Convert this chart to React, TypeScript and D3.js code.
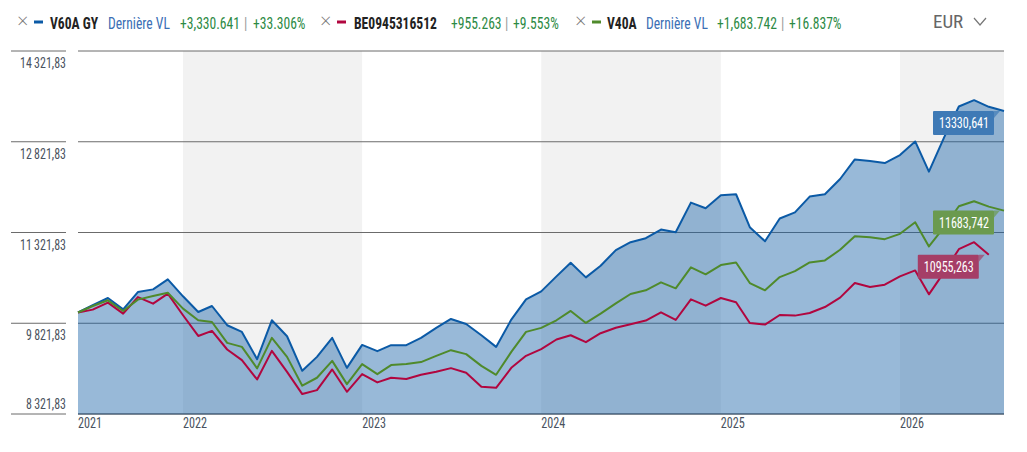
import * as d3 from "d3";

const startMonth = new Date(2021, 5, 1);
const endMonth = new Date(2026, 7, 1);
const months = d3.timeMonth.range(startMonth, d3.timeDay.offset(endMonth, 1));

const v60a = [
  10000, 10119, 10239, 10052, 10337, 10382, 10547, 10267, 10008, 10107, 9789, 9678,
  9228, 9871, 9607, 9036, 9266, 9580, 9085, 9464, 9360, 9459, 9459, 9580,
  9745, 9893, 9810, 9624, 9431, 9882, 10217, 10349, 10597, 10822, 10580, 10773,
  11030, 11162, 11228, 11371, 11327, 11816, 11723, 11937, 11954, 11410, 11178, 11553,
  11655, 11915, 11954, 12206, 12530, 12503, 12470, 12602, 12827, 12327, 12893, 13404,
  13509, 13399, 13330.641,
];
const be0945 = [
  10000, 10047, 10163, 9981, 10255, 10146, 10311, 9954, 9612, 9695, 9388, 9212,
  8893, 9365, 9019, 8651, 8717, 9058, 8689, 8981, 8844, 8921, 8900, 8970,
  9019, 9080, 9003, 8772, 8755, 9085, 9283, 9393, 9553, 9624, 9509, 9657,
  9748, 9805, 9866, 10003, 9876, 10217, 10113, 10239, 10168, 9827, 9800, 9958,
  9948, 9992, 10090, 10245, 10486, 10420, 10459, 10596, 10695, 10300, 10667, 11046,
  11162, 10955.263,
];
const v40a = [
  10000, 10107, 10201, 10025, 10212, 10272, 10327, 10064, 9871, 9843, 9497, 9431,
  9075, 9580, 9266, 8789, 8921, 9200, 8816, 9146, 8981, 9130, 9150, 9180,
  9283, 9377, 9311, 9118, 8970, 9349, 9679, 9745, 9871, 10025, 9827, 9981,
  10150, 10305, 10366, 10498, 10399, 10745, 10630, 10783, 10827, 10486, 10366, 10585,
  10684, 10827, 10860, 11036, 11261, 11245, 11212, 11300, 11492, 11091, 11410, 11756,
  11838, 11750, 11683.742,
];

const yTicks = [8321.83, 9821.83, 11321.83, 12821.83, 14321.83];
const years = [2021, 2022, 2023, 2024, 2025, 2026];
const shadedYears = [2022, 2024, 2026];
const base = 10000;

const series = [
  { name: "V60A GY", sub: "Dernière VL", values: v60a, color: "#0b5aa6", tag: "#3f7ab6", x: 17, at: [50, 108, 180, 244, 253] },
  { name: "BE0945316512", sub: "", values: be0945, color: "#b1063f", tag: "#a53e67", x: 320, at: [354, 0, 451, 505, 513] },
  { name: "V40A", sub: "Dernière VL", values: v40a, color: "#4f8a2b", tag: "#6b9a4f", x: 575, at: [607, 646, 717, 781, 789] },
];

const font = "'Roboto Condensed', Roboto, sans-serif";
const fr = d3.formatLocale({ decimal: ",", thousands: "\u2009", grouping: [3], currency: ["", "€"] });
const tickFmt = fr.format(",.2f");
const tagFmt = fr.format(".3f");
const diffFmt = d3.format("+,.3f");
const pctFmt = d3.format("+.3f");

const width = 1027;
const height = 452;
const margin = { top: 51, right: 23, bottom: 38, left: 78 };
const squeeze = 0.85;

const Narrow = ({ x, y, fill, bold, children }: { x: number; y: number; fill: string; bold?: boolean; children: any }) => (
  <text transform={`translate(${x},${y}) scale(${squeeze},1)`} fill={fill} fontWeight={bold ? "bold" : undefined}>
    {children}
  </text>
);

export default function App() {
  const x = d3.scaleTime()
    .domain([startMonth, endMonth])
    .range([margin.left, width - margin.right]);
  const y = d3.scaleLinear()
    .domain([yTicks[0], yTicks[yTicks.length - 1]])
    .range([height - margin.bottom, margin.top]);

  const line = d3.line<number>()
    .x((_, i) => x(months[i]))
    .y((d) => y(d));
  const area = d3.area<number>()
    .x((_, i) => x(months[i]))
    .y0(y(yTicks[0]))
    .y1((d) => y(d));

  const right = width - margin.right;
  const green = "#2d8a45";

  return (
    <svg width={width} height={height} style={{ position: "absolute", left: 0, top: 0, fontFamily: font }}>
      {shadedYears.map((yr) => {
        const x0 = x(new Date(yr, 0, 1));
        const x1 = Math.min(x(new Date(yr + 1, 0, 1)), right);
        return <rect key={yr} x={x0} y={margin.top} width={x1 - x0} height={y(yTicks[0]) - margin.top} fill="#f2f2f2" />;
      })}

      {yTicks.map((t, i) => {
        const label = tickFmt(t);
        return (
          <g key={t}>
            <line x1={11} x2={66} y1={y(t)} y2={y(t)} stroke="#6b6b6b" />
            <line x1={margin.left} x2={right} y1={y(t)} y2={y(t)} stroke="#6b6b6b" />
            <text x={66} y={i === 0 ? y(t) - 5 : y(t) + 17} textAnchor="end" fontSize={14.5} fill="#4a5260"
              textLength={label.length > 8 ? 46 : 40} lengthAdjust="spacingAndGlyphs">
              {label}
            </text>
          </g>
        );
      })}

      <path d={area(v60a) ?? ""} fill="#1a63a8" fillOpacity={0.45} />

      {series.map((s) => (
        <path key={s.name} d={line(s.values) ?? ""} fill="none" stroke={s.color} strokeWidth={2} strokeLinejoin="round" />
      ))}
      <line x1={margin.left} x2={right} y1={y(yTicks[0])} y2={y(yTicks[0])} stroke="#3e5670" />

      {years.map((yr) => (
        <text key={yr} x={Math.max(x(new Date(yr, 0, 1)), margin.left)} y={428} fontSize={14.5} fill="#4a5260"
          textLength={24} lengthAdjust="spacingAndGlyphs">
          {yr}
        </text>
      ))}

      {series.map((s) => {
        const last = s.values.length - 1;
        const px = x(months[last]);
        const py = y(s.values[last]);
        const w = 61;
        const bx = px - 10 - w;
        return (
          <g key={s.name}>
            <rect x={bx} y={py} width={w} height={24} fill={s.tag} rx={1} />
            <path d={`M${bx + w},${py}L${bx + w + 6},${py}L${bx + w},${py + 7}Z`} fill={s.tag} fillOpacity={0.7} />
            <text x={bx + 6} y={py + 17.5} fontSize={15.5} fill="#fff" textLength={50} lengthAdjust="spacingAndGlyphs">
              {tagFmt(s.values[last])}
            </text>
          </g>
        );
      })}

      {series.map((s) => {
        const diff = s.values[s.values.length - 1] - base;
        const [nm, sub, df, bar, pc] = s.at;
        return (
          <g key={s.name} fontSize={16}>
            <text x={s.x} y={28} fontSize={20} fontFamily="'Open Sans'" fontWeight={300} fill="#777">×</text>
            <line x1={s.x + 17} x2={s.x + 26} y1={22} y2={22} stroke={s.color} strokeWidth={3} />
            <Narrow x={nm} y={29} fill="#222" bold>{s.name}</Narrow>
            {s.sub && <Narrow x={sub} y={29} fill="#3b6fb5">{s.sub}</Narrow>}
            <Narrow x={df} y={29} fill={green}>{diffFmt(diff)}</Narrow>
            <Narrow x={bar} y={29} fill="#999">|</Narrow>
            <Narrow x={pc} y={29} fill={green}>{pctFmt((diff / base) * 100)}%</Narrow>
          </g>
        );
      })}

      <text x={933} y={28} fontSize={19} fill="#666">EUR</text>
      <path d="M974,18L980,25L986,18" fill="none" stroke="#777" strokeWidth={1.2} />
    </svg>
  );
}
